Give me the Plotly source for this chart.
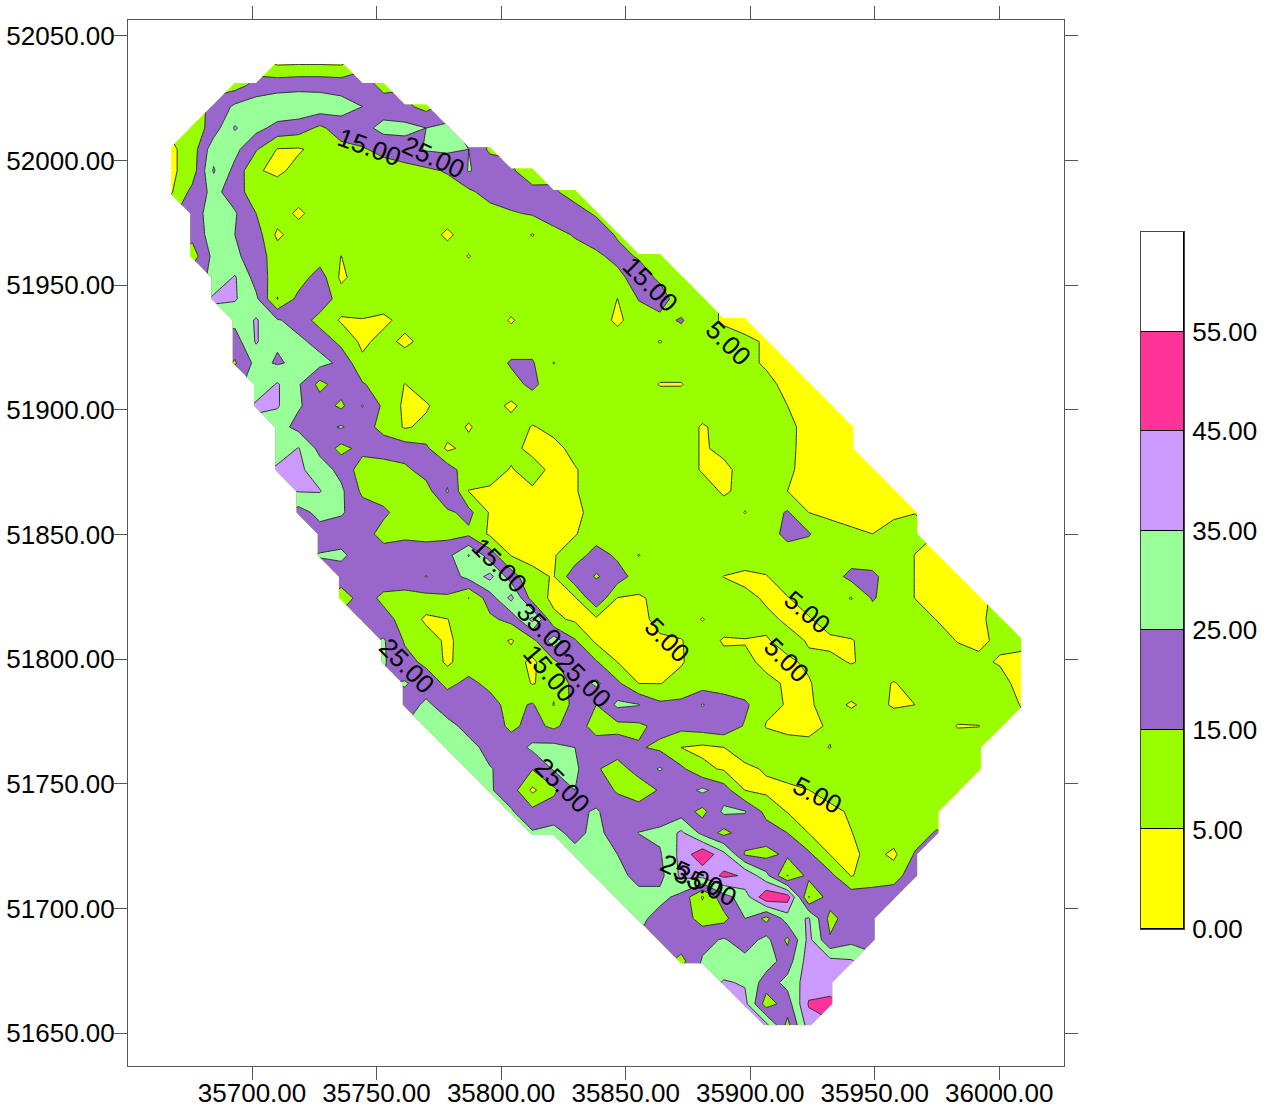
import plotly.graph_objects as go

# node coordinates of the contour grid
x_first, x_step, n_cols = 35667.5, 8.534, 41
y_first, y_step, n_rows = 52038.8, -8.57, 46
x_nodes = [x_first + i * x_step for i in range(n_cols)]
y_nodes = [y_first + j * y_step for j in range(n_rows)]

# first valid column of each row, then the values read row by row
row_start = [5,3,2,1,0,0,0,1,1,1,2,2,3,3,3,4,4,5,5,5,6,6,7,7,8,8,9,10,10,11,11,12,13,14,15,16,17,19,20,21,22,23,24,26,27,28]
z_rows = [
[4,4.5,4.5,4],
[11,18,21,22,22,21,20,12],
[17,27,31,32,32,31,29,25,20,17,12],
[8,20,36,28,22,20,13,20,22,28,28,25,27],
[3,10,31,28,16,4.5,4,8,12,14,18,20,26,27,25,13],
[3,10,36,22,6,3,8,10,10,10,10,12,13,16,25.5,22,16,11],
[4,18,28,20,9,10,10,10,10,10,10,10,10,10,13,19,21,17,16,12],
[20,30,26,15,10,3,10,10,10,10,10,10,10,10,11,14,16,21,18,14],
[18,30,25,20,3,10,10,10,10,10,10,10,3,10,10,10,4.5,11,16,20,14],
[10,28,27,20,10,10,10,4.9,10,10,10,10,10,4.5,10,10,10,10,10,13,18,14,5.5],
[27,36,21,10,10,20,3,10,10,10,10,10,10,10,10,10,10,10,10,12,20,13,5.5],
[37,36,27,4.5,18,22,10,10,10,10,10,10,10,10,10,10,10,10,10,4.9,15.5,20,9,5.5],
[28,36,26,21,11,4,4.6,3,8,10,10,10,10,4,10,10,10,10,3,10,12,16,8,4,3],
[20,36,26,27,22,12,3,8,3,8,10,10,10,10,10,10,10,10,10,10,4.5,10,10,8,6,4.5],
[14,28,24,27,28,23,7,10,10,10,10,10,10,16,16,4.7,10,10,10,10,10,10,10,10,6,4.5,4],
[27,36,26,12,20,16,10,4.8,10,10,10,10,12,17,10,10,10,10,10,4.5,4.5,10,10,10,6,4,3],
[37,36,26,20,13,25.5,13,3,4,10,9,9,3,10,10,10,10,10,10,10,10,10,10,10,9,5,3,3],
[29,22,21,26,19,12,4,7,10,4,10,9,4.5,7,10,10,10,10,10,10,4,8,10,10,6.5,3,3,3],
[29,35.5,22,12,18,20,20,17,3,8,10,7,3,3,7,10,10,10,10,10,4,7,10,10,6,3.5,3,3],
[37,37,30,22,10,10,13,19,20,9,8,4.5,8,3,4.5,8,10,10,10,10,4,3,8,10,6,3,3,3,3],
[35.5,35.5,27,13,10,10,11,26,4.8,4,4.7,4,3,4.5,8,10,10,10,10,10,3.5,8,10,5,3,3,3,3,3],
[21,28,26,20,17,10,10,13,18,4,3,3,3,3,8,10,10,10,10,10,10,4.7,10,16,5,4.5,3,3,4,4.8],
[21,20,20,11,13,12,12,13,3.5,3,3,3,4.5,9,10,10,10,10,10,10,10,10,18,16,6,6,5,7,8],
[25.5,27,20,20,20,20,22,35.5,20,4.5,3,4.5,9,20,13,4.7,10,10,10,10,10,10,10,8,10,10,10,10,4.8,3],
[20,21,20,20,25.3,20,28,38,20,7,4.5,22,14,20,10,10,10,10,4.8,3,4.5,10,10,10,18,17,10,4.8,3,3],
[10,19,13,12,12,14,4.8,20,38,10,3,4,24,4.7,4,7,10,10,10,7,4,4.5,10,10,4.5,16,10,4.8,3,3,4.8],
[20,18,12,3,4.8,10,13,18,38,7,3.5,3,3,3,7,10,4.5,10,10,6.5,4,4,10,10,10,10,10,4.8,3,4.5,6],
[26,14,10,3,10,10,4,12,30,16,3,3,4,4,4.5,10,4,4.5,4.5,7,4.5,3,4.5,8,10,10,10,4.5,4,6,7],
[26,18,13,3,11,10,9,3,13,24,16,5,3.5,3,4.5,8,8,7,3,4,6,7,4.5,7,10,10,10,10,6,4.5,3],
[26,20,13,17,13,10,4.5,8,18,27,17,5,4.8,7,10,10,8,7,4,4.5,8,10,8,4.5,8,10,10,10,7,3],
[20,27,20,20,18,12,16,4.5,19,15,27,25.5,17,18,25.5,20,17,7,4.5,4,8,4,8,4,5,10,10,10,10,4.5],
[30,28,22,20,13,18,13,20,11,12,13,18,18,20,22,14,4.5,3,3,6,10,10,10,10,10,4.5,4.8,9],
[29,28,22,20,27,28,25,20,20,16,13,4.9,3,4.9,10,10,8,7,4.8,10,10,10,10,10,10,10],
[27,25.5,22,15.5,26,27,16,11,19,26,17,7,4,3,6,8,10,10,10,10,10,10,10,10,10],
[26,20,3,13,25,20,14,9,16,20,27,20,4.9,3,3.5,4.9,8,10,10,10,10,10,10],
[26,18,20,23,26,20,20,20,20,12,27,25.5,12,4.5,3,3,6,10,10,10,9],
[26,28,22,28,20,25.2,27,37,22,12,20,20,15,4.8,3,4.8,8,10,10,16],
[28,30,25,20,24,38,53,38,14,12,17,17,4.8,3,8,3,16],
[30,28,22,22,37,38,47,44,28,4.5,18,18,4.5,9,10,22],
[26,28,28,22,4,21,30,53,50,4.5,20,21,20,22],
[28,21,20,11,12,25,12,30,36,12,20,20],
[20,21,22,26,20,28,13,38,16,22,20],
[12,26,28,28,30,20,40,38,36],
[36,34,20,28,40,36],
[38,10,20,46,50],
[38,12,40],
]

band_colors = ["#FFFF00", "#99FF00", "#9966CC", "#99FF99", "#CC99FF", "#FF3399", "#FFFFFF"]
band_ticks = ["0.00", "5.00", "15.00", "25.00", "35.00", "45.00", "55.00"]

label_text = ["15.00","25.00","15.00","5.00","15.00","35.00","25.00","15.00","25.00","5.00","5.00","5.00","5.00","25.00","25.00","35.00"]
label_x = [35747,35772.7,35859.8,35891.2,35799.2,35817.3,35832.9,35819.3,35762.2,35866.7,35922.9,35914.5,35926.9,35824.5,35876.3,35881.9]
label_y = [52005.5,52001.5,51950.5,51926.8,51837.8,51811.7,51791.6,51794.4,51797.2,51807.7,51818.9,51799.6,51745.5,51749.5,51713.4,51709.4]
label_angle = [20,25,45,45,45,45,45,50,45,45,40,45,28,45,25,25]

x_tick_vals = [35700,35750,35800,35850,35900,35950,36000]
y_tick_vals = [51650,51700,51750,51800,51850,51900,51950,52000,52050]

z = []
for s, vals in zip(row_start, z_rows):
    z.append([None] * s + vals + [None] * (n_cols - s - len(vals)))

n = len(band_colors)
scale = []
for i, c in enumerate(band_colors):
    scale += [[i / n, c], [(i + 1) / n, c]]

FONT = "Liberation Sans, Arial, sans-serif"
W, H = 1269, 1109
fig = go.Figure()
fig.add_trace(go.Contour(
    x=x_nodes, y=y_nodes, z=z, connectgaps=False, autocontour=False,
    contours=dict(start=5, end=55, size=10, coloring="fill", showlabels=False),
    colorscale=scale, showscale=False, line=dict(color="#303030", width=1, smoothing=0),
    hoverinfo="skip",
))
for c in band_colors:
    fig.add_trace(go.Bar(x=[0], y=[1], xaxis="x2", yaxis="y2", width=1, cliponaxis=False,
                         marker=dict(color=c, line=dict(color="black", width=1)),
                         showlegend=False, hoverinfo="skip"))
axis = dict(showgrid=False, zeroline=False, showline=True, linecolor="#555", linewidth=1,
            ticks="outside", ticklen=13, tickcolor="#555", tickwidth=1, mirror="all", automargin=False,
            tickfont=dict(family=FONT, size=26, color="black"), tickformat=".2f")
fig.update_layout(
    width=W, height=H, margin=dict(l=0, r=0, t=0, b=0, pad=0), autosize=False,
    paper_bgcolor="white", plot_bgcolor="white", barmode="stack", bargap=0, showlegend=False,
    xaxis=dict(axis, domain=[128 / W, 1064 / W], range=[35650.2, 36026], tickvals=x_tick_vals, ticklabelstandoff=-9),
    yaxis=dict(axis, domain=[1 - 1066 / H, 1 - 20 / H], range=[51636.8, 52056.4], tickvals=y_tick_vals, ticklabelstandoff=-6),
    xaxis2=dict(domain=[1141 / W, 1184 / W], range=[-0.5, 0.5], anchor="y2", showgrid=False, automargin=False,
                zeroline=False, showticklabels=False, ticks="", showline=True, linecolor="#444", linewidth=1, mirror=True),
    yaxis2=dict(domain=[1 - 929 / H, 1 - 232 / H], range=[0, 7], anchor="x2", side="right", automargin=False,
                showgrid=False, zeroline=False, tickvals=list(range(7)), ticktext=band_ticks,
                showline=True, linecolor="#444", linewidth=1, mirror=True,
                ticks="outside", ticklen=2, tickcolor="rgba(0,0,0,0)",
                tickfont=dict(family=FONT, size=26, color="black")),
    annotations=[dict(x=a, y=b, text=t, textangle=g, showarrow=False, xref="x", yref="y",
                      font=dict(family=FONT, size=26, color="black"))
                 for a, b, t, g in zip(label_x, label_y, label_text, label_angle)],
)
fig.write_html("out.html", config=dict(displayModeBar=False),
               post_script="document.body.style.margin='0';document.body.style.overflow='hidden';")
